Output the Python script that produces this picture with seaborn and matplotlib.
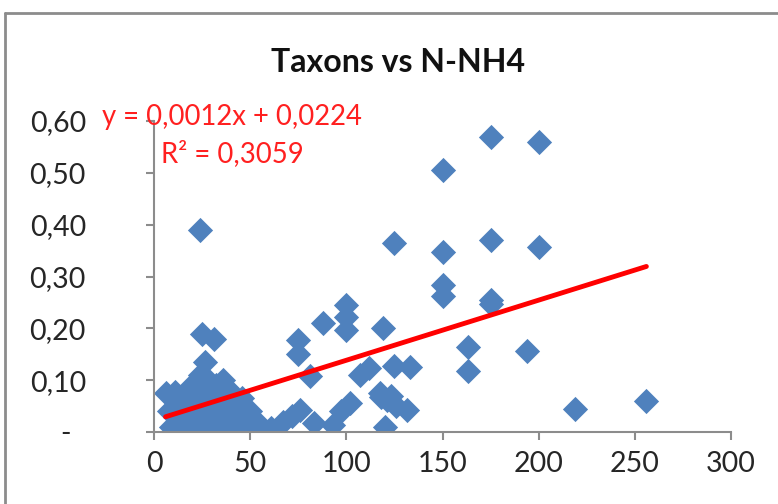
import numpy as np
import pandas as pd
import matplotlib
matplotlib.use("Agg")
import matplotlib.pyplot as plt
import seaborn as sns
from matplotlib.lines import Line2D

# ---- data ----
x_vals = [175, 200, 150, 125, 150, 175, 200, 150, 150, 175, 175, 119, 163, 163, 194, 219, 256,
          125, 133, 112, 107, 117.5, 121, 126, 131.5, 120, 118, 123,
          100, 100, 100, 88, 75, 75, 81, 102, 97, 93, 83, 76, 72, 67, 61, 55,
          24, 25, 31, 26.5,
          6, 8, 9, 11, 12, 13, 14, 16, 17, 18, 19, 20, 21, 22, 23, 24, 25, 26, 27, 28, 29,
          30, 31, 32, 33, 34, 35, 36, 37, 38, 39, 40, 41, 42, 43, 44, 45, 46, 47, 48, 50, 52]
y_vals = [0.57, 0.56, 0.505, 0.365, 0.347, 0.37, 0.357, 0.283, 0.262, 0.255, 0.247, 0.20, 0.164, 0.117, 0.157, 0.044, 0.06,
          0.128, 0.125, 0.123, 0.11, 0.075, 0.062, 0.05, 0.042, 0.01, 0.068, 0.07,
          0.245, 0.222, 0.197, 0.211, 0.178, 0.15, 0.108, 0.056, 0.04, 0.013, 0.017, 0.042, 0.03, 0.02, 0.008, 0.013,
          0.39, 0.19, 0.18, 0.135,
          0.075, 0.04, 0.01, 0.078, 0.055, 0.02, 0.0, 0.07, 0.04, 0.085, 0.01, 0.06, 0.025, 0.095, 0.0, 0.11, 0.05,
          0.02, 0.08, 0.1, 0.005, 0.06, 0.035, 0.09, 0.015, 0.075, 0.05, 0.1, 0.02, 0.085, 0.06, 0.075, 0.04, 0.01,
          0.055, 0.005, 0.035, 0.065, 0.042, 0.025, 0.04, 0.02]
trend_slope = 0.00116
trend_intercept = 0.0224
eq_text = "y = 0,0012x + 0,0224"
r2_text = "R² = 0,3059"
title = "Taxons vs N-NH4"
x_ticks = [0, 50, 100, 150, 200, 250, 300]
y_ticks = [0.0, 0.1, 0.2, 0.3, 0.4, 0.5, 0.6]
y_tick_labels = ["-  ", "0,10", "0,20", "0,30", "0,40", "0,50", "0,60"]

df = pd.DataFrame({"x": x_vals, "y": y_vals})

sns.set_theme(style="white")
plt.rcParams["font.family"] = ["Lato", "DejaVu Sans"]

fig = plt.figure(figsize=(7.78, 5.04), dpi=100)
ax = fig.add_axes([154/778, 72/504, (731-154)/778, (432-121)/504])

sns.scatterplot(data=df, x="x", y="y", marker="D", s=165, color="#4F81BD",
                linewidth=0, ax=ax, zorder=2)

tx = np.array([min(x_vals), max(x_vals)])
sns.lineplot(x=tx, y=trend_intercept + trend_slope * tx, color="#FF0000",
             linewidth=3.5, ax=ax, zorder=3)

ax.set_xlim(0, 300)
ax.set_ylim(0, 0.6)
ax.set_xticks(x_ticks)
ax.set_xticklabels([str(t) for t in x_ticks])
ax.set_yticks(y_ticks)
ax.set_yticklabels(y_tick_labels)
ax.set_xlabel("")
ax.set_ylabel("")

for s in ["top", "right"]:
    ax.spines[s].set_visible(False)
for s in ["left", "bottom"]:
    ax.spines[s].set_color("#8C8C8C")
    ax.spines[s].set_linewidth(1.5)

ax.tick_params(axis="both", which="major", length=6, width=1.5, color="#8C8C8C",
               labelsize=20.5, labelcolor="#262626")
ax.tick_params(axis="x", direction="out", pad=8, bottom=True)
ax.tick_params(axis="y", direction="out", pad=43, left=True)

ax.text(40.6, 0.607, eq_text, color="#FF2020", fontsize=19.8, ha="center", va="center")
ax.text(41, 0.538, r2_text, color="#FF2020", fontsize=19.8, ha="center", va="center")

fig.text(398/778, 1 - 62/504, title, fontsize=23, fontweight="bold", ha="center",
         va="center", color="#111111")

# chart-area border (top and left visible)
fig.add_artist(Line2D([5/778, 5/778], [0, 1 - 13/504], color="#8C8C8C", linewidth=2))
fig.add_artist(Line2D([5/778, 1], [1 - 13/504, 1 - 13/504], color="#8C8C8C", linewidth=2))

fig.savefig("out.png", dpi=100)
